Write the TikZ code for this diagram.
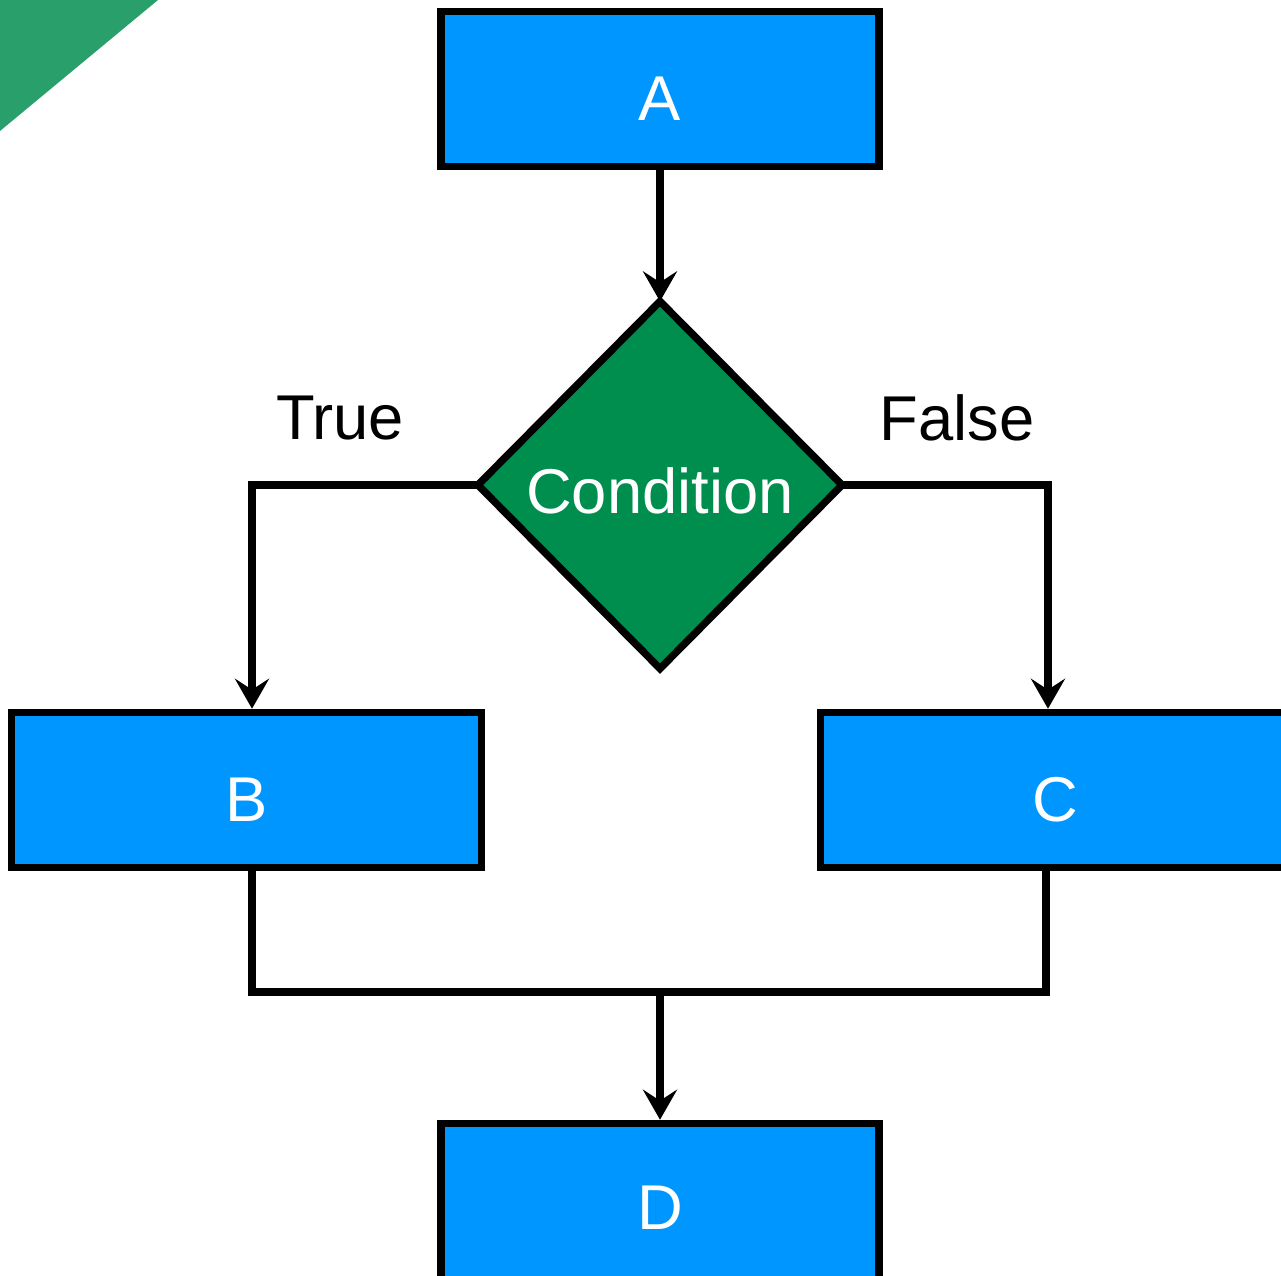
\documentclass[tikz,border=0pt]{standalone}
\usepackage{fontspec}
\setmainfont{Liberation Sans}
\usetikzlibrary{arrows.meta, shapes.geometric}
\definecolor{fcBlue}{HTML}{0096FF}
\definecolor{fcGreen}{HTML}{008E4F}
\definecolor{fcCorner}{HTML}{29A06B}
\tikzset{
  box/.style={
    draw=black, line width=2.1pt, fill=fcBlue, text=white,
    font=\fontsize{18}{20}\selectfont, inner sep=0pt, text height=6.3mm,
    minimum width=4.38cm, minimum height=1.55cm
  },
  wide/.style={box, minimum width=4.70cm},
  decision/.style={
    diamond, draw=black, line width=2.1pt, fill=fcGreen, text=white,
    font=\fontsize{18}{20}\selectfont, inner sep=0pt, outer sep=0pt, text height=5.8mm,
    minimum width=3.64cm, minimum height=3.67cm
  },
  flow/.style={-{Stealth[length=3mm, width=3.4mm, inset=1.1mm]}, line width=2.1pt, draw=black},
  merger/.style={line width=2.1pt, draw=black},
  lbl/.style={font=\fontsize{18}{20}\selectfont, text=black, inner sep=0pt},
}
\begin{document}
\begin{tikzpicture}[x=0.01cm, y=-0.01cm]
  \useasboundingbox (0,0) rectangle (1281,1276);
  \clip (0,0) rectangle (1281,1276);
  \fill[fcCorner] (0,0) -- (158,0) -- (0,131) -- cycle;

  \node[box]      (A)    at (660,89)    {A};
  \node[decision] (cond) at (660,485)   {Condition};
  \node[wide]     (B)    at (246.5,790) {B};
  \node[wide]     (C)    at (1055.5,790) {C};
  \node[box, minimum height=1.75cm, text height=4.5mm, text depth=0.8mm] (D) at (660,1211) {D};
  \coordinate (merge) at (660,992);

  \draw[flow] (A) -- (cond);
  \draw[flow] (cond.west) -| ([xshift=0.055cm]B.north);
  \draw[flow] (cond.east) -| ([xshift=-0.075cm]C.north);
  \draw[merger] ([xshift=0.055cm]B.south) |- (merge) -| ([xshift=-0.095cm]C.south);
  \draw[flow] (merge) -- (D);

  \node[lbl] (true)  at (340,418) {True};
  \node[lbl] (false) at (957,418) {False};
\end{tikzpicture}
\end{document}
